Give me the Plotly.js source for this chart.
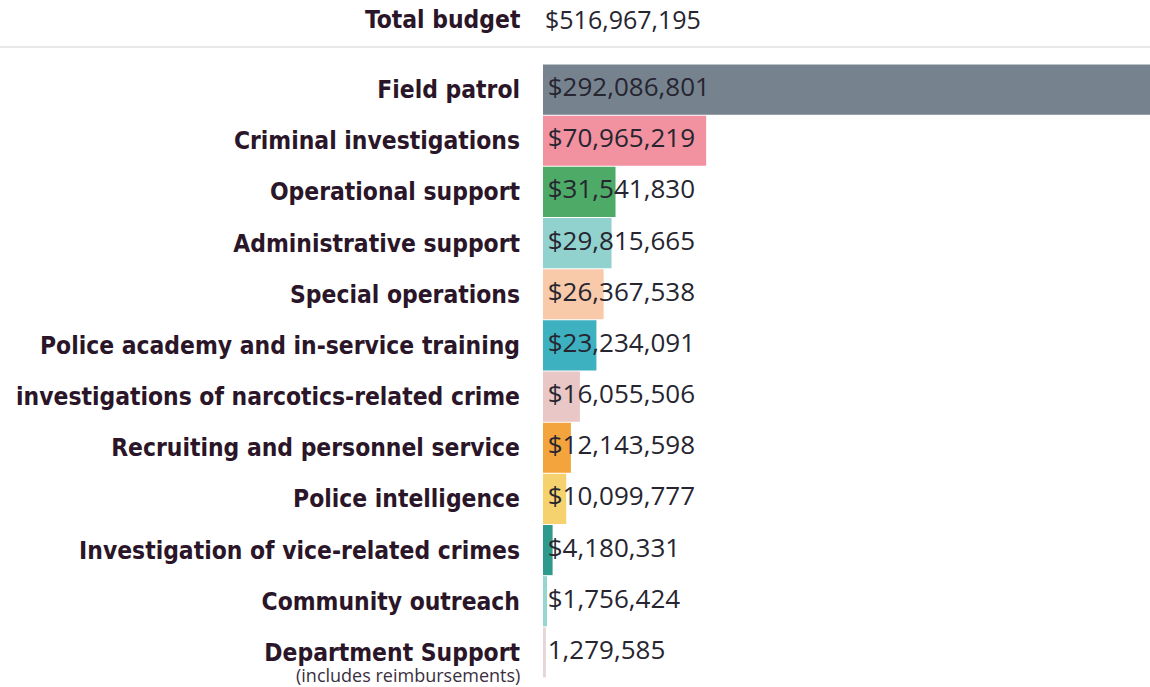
<!DOCTYPE html>
<html>
<head>
<meta charset="utf-8">
<script src="https://cdn.plot.ly/plotly-3.0.1.min.js"></script>
<style>html,body{margin:0;padding:0;background:#fff;}#chart{width:1150px;height:687px;}</style>
</head>
<body>
<div id="chart"></div>
<script>
const categories = [
  "Field patrol",
  "Criminal investigations",
  "Operational support",
  "Administrative support",
  "Special operations",
  "Police academy and in-service training",
  "investigations of narcotics-related crime",
  "Recruiting and personnel service",
  "Police intelligence",
  "Investigation of vice-related crimes",
  "Community outreach",
  "Department Support"
];
const values = [292086801, 70965219, 31541830, 29815665, 26367538, 23234091, 16055506, 12143598, 10099777, 4180331, 1756424, 1279585];
const valueLabels = ["$292,086,801","$70,965,219","$31,541,830","$29,815,665","$26,367,538","$23,234,091","$16,055,506","$12,143,598","$10,099,777","$4,180,331","$1,756,424","1,279,585"];
const barColors = ["#76838f","#f2919f","#4dab67","#92d2ce","#f8caa9","#3eb1c0","#e9c7c6","#f3a43c","#f6d26f","#2f9a8b","#95d6cf","#e6d6d8"];
const totalLabel = "Total budget";
const totalValue = "$516,967,195";
const subNote = "(includes reimbursements)";

const labelFont = "'DejaVu Sans Condensed', 'Liberation Sans Narrow', sans-serif";
const valueFont = "'Open Sans', 'Noto Sans', sans-serif";
const ink = "#2a1628";

const bars = {
  type: "bar",
  orientation: "h",
  y: categories,
  x: values,
  marker: {color: barColors, line: {width: 0}},
  hoverinfo: "skip"
};
const texts = {
  type: "scatter",
  mode: "markers+text",
  y: categories,
  x: categories.map(() => 0),
  text: valueLabels,
  textposition: "middle right",
  marker: {size: 6, color: "rgba(0,0,0,0)"},
  textfont: {family: valueFont, size: 26, color: "#262530"},
  cliponaxis: false,
  hoverinfo: "skip"
};

const plotH = 687 - 64 - 9;
const layout = {
  width: 1150,
  height: 687,
  margin: {l: 543, r: 0, t: 64, b: 9},
  paper_bgcolor: "#ffffff",
  plot_bgcolor: "#ffffff",
  showlegend: false,
  bargap: 0.02,
  xaxis: {range: [0, 264e6], visible: false, fixedrange: true},
  yaxis: {
    range: [categories.length - 0.5, -0.5],
    showgrid: false, zeroline: false, showline: false,
    ticks: "", ticklabelstandoff: 22,
    tickfont: {family: labelFont, size: 24.4, color: ink, weight: "bold"},
    fixedrange: true
  },
  shapes: [{
    type: "line", xref: "paper", yref: "paper",
    x0: -543/607, x1: 1, y0: 1 + 17/plotH, y1: 1 + 17/plotH,
    line: {color: "#e8e8ea", width: 2}
  }],
  annotations: [
    {xref: "paper", yref: "paper", x: 0, y: 1, xanchor: "right", yanchor: "middle",
     xshift: -21, yshift: 45, showarrow: false, text: totalLabel,
     font: {family: labelFont, size: 24.4, color: ink, weight: "bold"}},
    {xref: "paper", yref: "paper", x: 0, y: 1, xanchor: "left", yanchor: "middle",
     xshift: 0, yshift: 45, showarrow: false, text: totalValue,
     font: {family: valueFont, size: 25, color: "#262530"}},
    {xref: "paper", yref: "y", x: 0, y: categories[categories.length - 1], xanchor: "right", yanchor: "middle",
     xshift: -21, yshift: -23, showarrow: false, text: subNote,
     font: {family: valueFont, size: 18, color: "#3a3040"}}
  ]
};

Plotly.newPlot("chart", [bars, texts], layout, {displayModeBar: false, staticPlot: true});
</script>
</body>
</html>
